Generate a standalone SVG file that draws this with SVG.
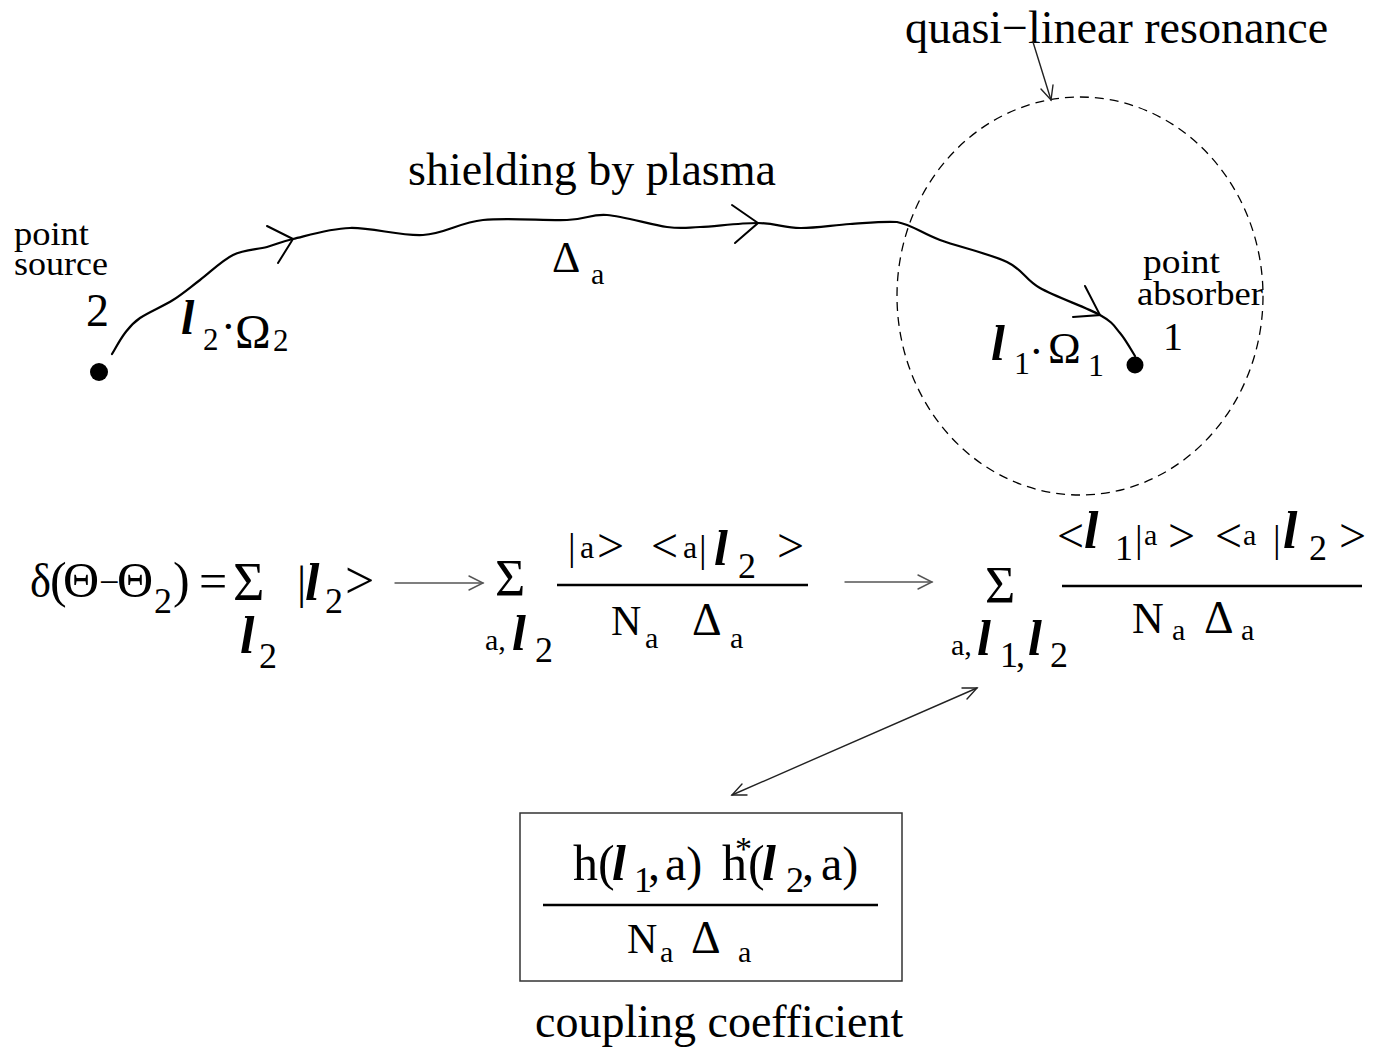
<svg xmlns="http://www.w3.org/2000/svg" width="1375" height="1059" viewBox="0 0 1375 1059">
<style>
text { font-family: "Liberation Serif", "Times New Roman", serif; fill: #000; }
.bi { font-weight: bold; font-style: italic; }
.curve { fill: none; stroke: #000; stroke-width: 2.2; stroke-linecap: round; stroke-linejoin: round; }
.head { fill: none; stroke: #000; stroke-width: 2; stroke-linecap: round; stroke-linejoin: miter; }
.thin { fill: none; stroke: #222; stroke-width: 1.4; stroke-linecap: round; }
.gray { fill: none; stroke: #555; stroke-width: 1.4; stroke-linecap: round; }
.frac { stroke: #000; stroke-width: 2.6; }
</style>
<rect width="1375" height="1059" fill="#fff"/>

<g id="resonance">
  <ellipse cx="1080" cy="296" rx="183" ry="199" fill="none" stroke="#000" stroke-width="1.3" stroke-dasharray="9 6"/>
  <text x="905" y="43" font-size="46">quasi−linear resonance</text>
</g>

<g id="source">
  <circle cx="99" cy="372" r="9" fill="#000"/>
  <text x="14" y="245" font-size="33" textLength="75" lengthAdjust="spacingAndGlyphs">point</text>
  <text x="14" y="275" font-size="33" textLength="94" lengthAdjust="spacingAndGlyphs">source</text>
  <text x="86" y="326" font-size="46">2</text>
  <text x="181" y="334" font-size="48" class="bi">l</text>
  <text x="203" y="350" font-size="31">2</text>
  <text x="221" y="341" font-size="44">·</text>
  <text x="235" y="348" font-size="48">Ω</text>
  <text x="273" y="351" font-size="31">2</text>
</g>

<g id="absorber">
  <circle cx="1135" cy="365" r="8.5" fill="#000"/>
  <text x="1143" y="273" font-size="33" textLength="77" lengthAdjust="spacingAndGlyphs">point</text>
  <text x="1137" y="305" font-size="33" textLength="126" lengthAdjust="spacingAndGlyphs">absorber</text>
  <text x="1163" y="350" font-size="40">1</text>
  <text x="991" y="360" font-size="50" class="bi">l</text>
  <text x="1014" y="374" font-size="32">1</text>
  <text x="1029" y="366" font-size="44">·</text>
  <text x="1048" y="363" font-size="44">Ω</text>
  <text x="1088" y="376" font-size="32">1</text>
</g>

<g id="shielding">
  <text x="408" y="185" font-size="46">shielding by plasma</text>
  <text x="552" y="272" font-size="44">Δ</text>
  <text x="591" y="284" font-size="30">a</text>
</g>

<g id="formula-delta">
  <text x="30" y="597" font-size="48" textLength="21" lengthAdjust="spacingAndGlyphs">δ</text>
  <text x="50" y="597" font-size="50">(</text>
  <text x="63" y="597" font-size="50">Θ</text>
  <text x="99" y="594" font-size="36">−</text>
  <text x="117" y="597" font-size="50">Θ</text>
  <text x="154" y="613" font-size="36">2</text>
  <text x="173" y="597" font-size="50">)</text>
  <text x="199" y="598" font-size="50">=</text>
  <text x="233" y="600" font-size="54">Σ</text>
  <text x="240" y="653" font-size="52" class="bi">l</text>
  <text x="259" y="668" font-size="36">2</text>
  <text x="297" y="598" font-size="46">|</text>
  <text x="305" y="600" font-size="52" class="bi">l</text>
  <text x="325" y="613" font-size="36">2</text>
  <text x="345" y="598" font-size="52">&gt;</text>
</g>

<g id="formula-sum-a">
  <text x="495" y="596" font-size="52">Σ</text>
  <text x="485" y="650" font-size="30">a,</text>
  <text x="512" y="650" font-size="50" class="bi">l</text>
  <text x="535" y="662" font-size="36">2</text>
  <text x="568" y="560" font-size="38">|</text>
  <text x="580" y="558" font-size="32">a</text>
  <text x="597" y="562" font-size="48">&gt;</text>
  <text x="651" y="562" font-size="48">&lt;</text>
  <text x="683" y="558" font-size="32">a</text>
  <text x="699" y="562" font-size="38">|</text>
  <text x="714" y="565" font-size="50" class="bi">l</text>
  <text x="738" y="578" font-size="36">2</text>
  <text x="777" y="562" font-size="48">&gt;</text>
  <line class="frac" x1="557" y1="585" x2="808" y2="585"/>
  <text x="611" y="635" font-size="42">N</text>
  <text x="645" y="648" font-size="30">a</text>
  <text x="692" y="635" font-size="46">Δ</text>
  <text x="730" y="648" font-size="30">a</text>
</g>

<g id="formula-sum-l1">
  <text x="1057" y="552" font-size="48">&lt;</text>
  <text x="1084" y="548" font-size="52" class="bi">l</text>
  <text x="1115" y="560" font-size="36">1</text>
  <text x="1135" y="552" font-size="38">|</text>
  <text x="1144" y="545" font-size="30">a</text>
  <text x="1168" y="552" font-size="48">&gt;</text>
  <text x="1215" y="552" font-size="48">&lt;</text>
  <text x="1243" y="545" font-size="30">a</text>
  <text x="1273" y="552" font-size="38">|</text>
  <text x="1283" y="548" font-size="52" class="bi">l</text>
  <text x="1309" y="560" font-size="36">2</text>
  <text x="1339" y="552" font-size="48">&gt;</text>
  <line class="frac" x1="1062" y1="586" x2="1362" y2="586"/>
  <text x="985" y="603" font-size="52">Σ</text>
  <text x="951" y="655" font-size="30">a,</text>
  <text x="977" y="655" font-size="50" class="bi">l</text>
  <text x="1000" y="667" font-size="36">1</text>
  <text x="1016" y="667" font-size="36">,</text>
  <text x="1028" y="655" font-size="50" class="bi">l</text>
  <text x="1050" y="667" font-size="36">2</text>
  <text x="1132" y="633" font-size="44">N</text>
  <text x="1172" y="640" font-size="30">a</text>
  <text x="1204" y="633" font-size="46">Δ</text>
  <text x="1241" y="640" font-size="30">a</text>
</g>

<g id="coupling">
  <rect x="520" y="813" width="382" height="168" fill="none" stroke="#333" stroke-width="1.5"/>
  <text x="573" y="880" font-size="50">h</text>
  <text x="598" y="880" font-size="50">(</text>
  <text x="612" y="880" font-size="50" class="bi">l</text>
  <text x="634" y="892" font-size="36">1</text>
  <text x="648" y="880" font-size="48">,</text>
  <text x="665" y="880" font-size="48">a)</text>
  <text x="722" y="880" font-size="50">h</text>
  <text x="735" y="860" font-size="34">*</text>
  <text x="748" y="880" font-size="50">(</text>
  <text x="762" y="880" font-size="50" class="bi">l</text>
  <text x="786" y="892" font-size="36">2</text>
  <text x="802" y="880" font-size="48">,</text>
  <text x="821" y="880" font-size="48">a)</text>
  <line class="frac" x1="543" y1="905" x2="878" y2="905"/>
  <text x="627" y="953" font-size="42">N</text>
  <text x="660" y="962" font-size="30">a</text>
  <text x="691" y="953" font-size="46">Δ</text>
  <text x="738" y="962" font-size="30">a</text>
  <text x="535" y="1037" font-size="46">coupling coefficient</text>
</g>

<g id="connectors">
  <path class="curve" d="M112,354 C114.2,350.5 120.3,339 125,333 C129.7,327 132,323.5 140,318 C148,312.5 163,306.3 173,300 C183,293.7 190,287.5 200,280 C210,272.5 221.8,260.5 233,255 C244.2,249.5 257,249.7 267,247 C277,244.3 279.2,242.2 293,239 C306.8,235.8 328.3,228.7 350,228 C371.7,227.3 400.8,236.3 423,235 C445.2,233.7 459,222.5 483,220 C507,217.5 546.3,220.8 567,220 C587.7,219.2 590.3,213.8 607,215 C623.7,216.2 651.5,225 667,227 C682.5,229 684.8,227.7 700,227 C715.2,226.3 741.3,222.8 758,223 C774.7,223.2 784.7,227.8 800,228 C815.3,228.2 833.8,225 850,224 C866.2,223 884,221 897,222 C912,224.7 921.7,233.3 940,240 C958.3,246.7 990.3,254 1007,262 C1023.7,270 1024.5,279.2 1040,288 C1055.5,296.8 1086.7,307.5 1100,315 C1113.3,322.5 1114.2,326.2 1120,333 C1125.8,339.8 1132.5,352.2 1135,356"/>
  <polyline class="head" points="267,226 293,239 278,263"/>
  <polyline class="head" points="732,205 758,223 735,243"/>
  <polyline class="head" points="1085,286 1100,315 1073,317"/>
  <line class="thin" x1="1033" y1="42" x2="1051" y2="100"/>
  <polyline class="thin" points="1041,89 1051,100 1053,85"/>
  <line class="gray" x1="395" y1="583" x2="483" y2="583"/>
  <polyline class="gray" points="469,576 483,583 469,590"/>
  <line class="gray" x1="845" y1="582" x2="932" y2="582"/>
  <polyline class="gray" points="918,575 932,582 918,589"/>
  <line class="thin" x1="732" y1="795" x2="977" y2="688"/>
  <polyline class="thin" points="962,688 977,688 967,699"/>
  <polyline class="thin" points="747,795 732,795 742,784"/>
</g>
</svg>
